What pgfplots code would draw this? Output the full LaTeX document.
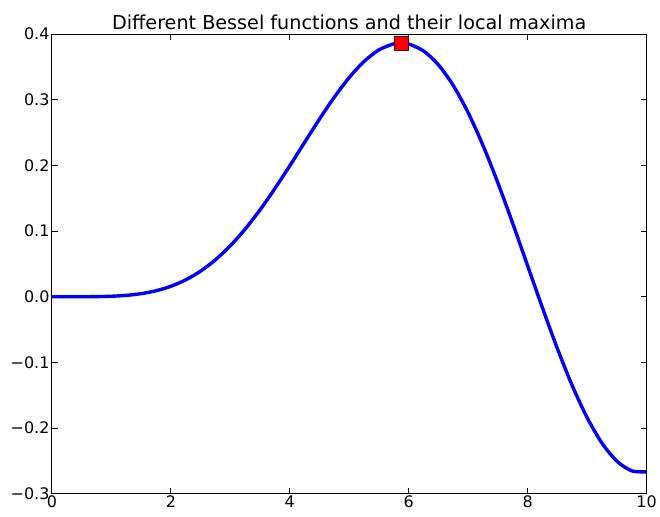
\documentclass[border=0pt]{standalone}
\usepackage{pgfplots}
\pgfplotsset{compat=1.18}
\usepackage{fontspec}
\setmainfont{DejaVu Sans}

% curve values
\pgfplotstableread{
x y
0.00 0.0
0.25 0.000002
0.50 0.000037
0.75 0.000226
1.00 0.000807
1.25 0.002146
1.50 0.004722
1.75 0.009101
2.00 0.015887
2.25 0.025678
2.50 0.038996
2.75 0.056234
3.00 0.077598
3.25 0.103051
3.50 0.132268
3.75 0.164654
4.00 0.199300
4.25 0.235027
4.50 0.270403
4.75 0.303845
5.00 0.333663
5.25 0.358154
5.50 0.375708
5.75 0.384903
5.875 0.386002
6.00 0.384605
6.25 0.374058
6.50 0.352920
6.75 0.321355
7.00 0.280032
7.25 0.230117
7.50 0.173243
7.75 0.111460
8.00 0.047121
8.25 -0.017064
8.50 -0.078844
8.75 -0.135211
9.00 -0.183880
9.25 -0.222738
9.50 -0.250111
9.75 -0.264856
10.00 -0.266414
}\curve

\begin{document}
\begin{tikzpicture}
\begin{axis}[
    scale only axis,
    width=596bp, height=461bp,
    xmin=0, xmax=10, ymin=-0.3, ymax=0.4,
    xtick={0,2,...,10},
    ytick={-0.3,-0.2,...,0.4},
    yticklabels={−0.3,−0.2,−0.1,0.0,0.1,0.2,0.3,0.4},
    /pgf/number format/assume math mode=true,
    tick label style={font=\fontsize{16}{19}\selectfont},
    xticklabel style={yshift=2bp},
    yticklabel style={xshift=1bp},
    tick align=inside,
    major tick length=6bp,
    axis line style={line width=0.8bp},
    every tick/.style={black, line width=0.8bp},
    title={Different Bessel functions and their local maxima},
    title style={font=\fontsize{19.3}{22}\selectfont, yshift=-5bp},
    clip=false,
]
\addplot[blue, line width=3.4bp, smooth] table {\curve};
\addplot[only marks, mark=square*, mark size=7bp,
    mark options={fill=red, draw=black!70!red, line width=0.6bp}]
    coordinates {(5.875, 0.386)};
\coordinate (bl) at (rel axis cs:0,0);
\coordinate (tr) at (rel axis cs:1,1);
\end{axis}
\path (bl) +(-52bp,-23bp) (tr) +(12bp,34bp);
\end{tikzpicture}
\end{document}
